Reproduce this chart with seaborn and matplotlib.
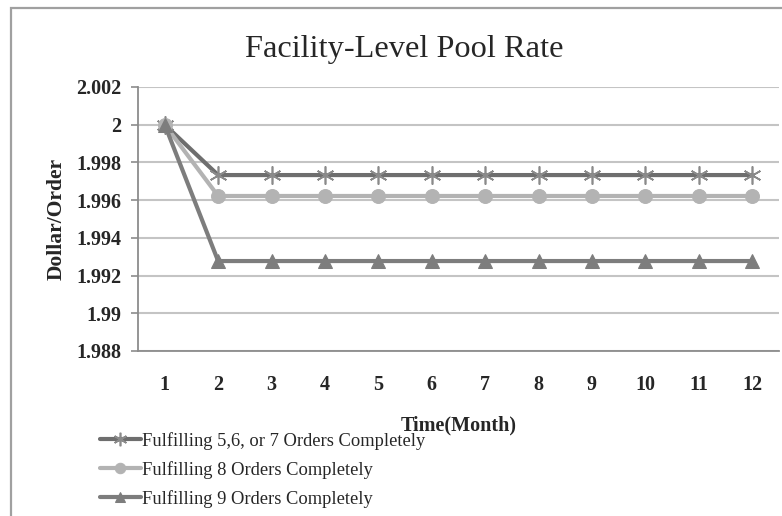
import pandas as pd
import matplotlib.pyplot as plt
import matplotlib.patches as patches
import seaborn as sns

sns.set_theme(style='white')
plt.rcParams['font.family'] = ['Liberation Serif', 'DejaVu Serif']

months = list(range(1, 13))
rate_567 = [2.0] + [1.99733] * 11
rate_8 = [2.0] + [1.99622] * 11
rate_9 = [2.0] + [1.99277] * 11
labels = ['Fulfilling 5,6, or 7 Orders Completely',
          'Fulfilling 8 Orders Completely',
          'Fulfilling 9 Orders Completely']

fig = plt.figure(figsize=(7.82, 5.16), dpi=100)
ax = fig.add_axes([0.1765, 0.3198, 0.8195, 0.5116])

# outer chart frame (cut off at right/bottom like the screenshot)
fig.patches.append(patches.Rectangle((11 / 782, -0.1), 1.2, 1 - 8 / 516 + 0.1,
                                     transform=fig.transFigure, fill=False,
                                     edgecolor='#a0a0a0', linewidth=1.6))

styles = [
    (rate_567, '#6e6e6e', dict(marker=(6, 2, 0), markersize=13, markeredgecolor='#8a8a8a',
                               markeredgewidth=1.2)),
    (rate_8, '#b3b3b3', dict(marker='o', markersize=10, markeredgecolor='#b3b3b3',
                             markerfacecolor='#b3b3b3')),
    (rate_9, '#7d7d7d', dict(marker='^', markersize=10, markeredgecolor='#7d7d7d',
                             markerfacecolor='#7d7d7d')),
]
for (vals, col, mk), lab in zip(styles, labels):
    df = pd.DataFrame({'month': months, 'rate': vals})
    sns.lineplot(data=df, x='month', y='rate', ax=ax, color=col, linewidth=3,
                 label=lab, legend=False, **mk)

ax.set_xlim(0.5, 12.5)
ax.set_ylim(1.988, 2.002)
ax.set_xticks(months)
ax.set_xticklabels([str(m) for m in months])
yt = [1.988, 1.99, 1.992, 1.994, 1.996, 1.998, 2.0, 2.002]
ax.set_yticks(yt)
ax.set_yticklabels(['1.988', '1.99', '1.992', '1.994', '1.996', '1.998', '2', '2.002'])
ax.yaxis.grid(True, color='#c4c4c4', linewidth=1.5)
ax.set_axisbelow(True)
for s in ['top', 'right']:
    ax.spines[s].set_visible(False)
for s in ['left', 'bottom']:
    ax.spines[s].set_color('#8c8c8c')
    ax.spines[s].set_linewidth(1.3)
ax.tick_params(axis='y', left=True, length=5, width=1.2, color='#8c8c8c', pad=7,
               labelsize=14.5)
ax.tick_params(axis='x', bottom=False, pad=11, labelsize=14.5)
for t in ax.get_xticklabels() + ax.get_yticklabels():
    t.set_fontweight('bold')
ax.set_xlabel('Time(Month)', fontsize=14.5, fontweight='bold', labelpad=15)
ax.set_ylabel('Dollar/Order', fontsize=15.5, fontweight='bold', labelpad=7)

fig.text(404 / 782, 1 - 50 / 516, 'Facility-Level Pool Rate', ha='center', va='center',
         fontsize=23.3)

handles, labs = ax.get_legend_handles_labels()
fig.legend(handles, labs, loc='upper left', bbox_to_anchor=(100 / 782, 1 - 432 / 516),
           frameon=False, fontsize=13.3, handlelength=2.2, handletextpad=0.05,
           labelspacing=0.6, borderaxespad=0, borderpad=0, markerscale=0.75)

fig.savefig('out.png', dpi=100)
